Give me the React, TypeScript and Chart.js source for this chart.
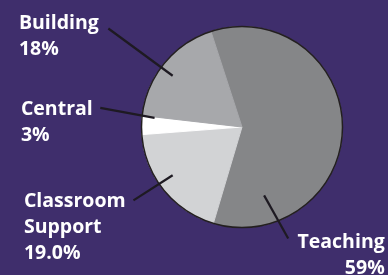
import React, { useEffect, useRef } from "react";
import { Chart, registerables } from "chart.js";

Chart.register(...registerables);

const categories = ["Teaching", "Classroom Support", "Central", "Building"];
const values = [59, 19, 3, 18];
const valueLabels = ["59%", "19.0%", "3%", "18%"];
const labelLines = [["Teaching"], ["Classroom", "Support"], ["Central"], ["Building"]];
const colors = ["#858688", "#d2d3d5", "#ffffff", "#a7a8ab"];

// label layout relative to pie centre, in units of the radius
const labelLayout = [
  { inner: [0.22, 0.68], outer: [0.46, 1.11], text: [1.42, 1.2], align: "right" },
  { inner: [-0.69, 0.48], outer: [-1.08, 0.73], text: [-2.17, 0.8], align: "left" },
  { inner: [-0.87, -0.09], outer: [-1.41, -0.19], text: [-2.2, -0.12], align: "left" },
  { inner: [-0.69, -0.51], outer: [-1.33, -0.98], text: [-2.22, -0.98], align: "left" },
];

const BG = "#3f2e6c";

const labelPlugin = {
  id: "pieLabels",
  afterDatasetsDraw(chart: any) {
    const ctx = chart.ctx;
    const meta = chart.getDatasetMeta(0);
    const arc0 = meta.data[0];
    const { x: cx, y: cy, outerRadius: R } = arc0.getProps(["x", "y", "outerRadius"], true);
    ctx.save();
    // outer outline
    ctx.beginPath();
    ctx.arc(cx, cy, R, 0, Math.PI * 2);
    ctx.lineWidth = 1.5;
    ctx.strokeStyle = "#231f20";
    ctx.stroke();
    // leaders + text
    categories.forEach((_, i) => {
      const L = labelLayout[i];
      ctx.beginPath();
      ctx.moveTo(cx + L.inner[0] * R, cy + L.inner[1] * R);
      ctx.lineTo(cx + L.outer[0] * R, cy + L.outer[1] * R);
      ctx.lineWidth = 2.2;
      ctx.strokeStyle = "#1e1a22";
      ctx.stroke();
      const lines = [...labelLines[i], valueLabels[i]];
      ctx.font = "bold 19.5px 'Open Sans', sans-serif";
      ctx.fillStyle = "#ffffff";
      ctx.textAlign = L.align;
      ctx.textBaseline = "alphabetic";
      const tx = cx + L.text[0] * R;
      const ty = cy + L.text[1] * R;
      lines.forEach((t, j) => ctx.fillText(t, tx, ty + j * 26));
    });
    ctx.restore();
  },
};

const bgPlugin = {
  id: "bg",
  beforeDraw(chart: any) {
    const ctx = chart.ctx;
    ctx.save();
    ctx.fillStyle = BG;
    ctx.fillRect(0, 0, chart.width, chart.height);
    ctx.restore();
  },
};

export default function App() {
  const ref = useRef<HTMLCanvasElement>(null);
  useEffect(() => {
    document.body.style.margin = "0";
    document.body.style.background = BG;
    const chart = new Chart(ref.current!, {
      type: "pie",
      data: {
        labels: categories,
        datasets: [
          {
            data: values,
            backgroundColor: colors,
            borderColor: colors,
            borderWidth: 1,
          },
        ],
      },
      options: {
        responsive: false,
        animation: false,
        rotation: -18,
        layout: { padding: { left: 141, right: 45, top: 26, bottom: 47 } },
        plugins: { legend: { display: false }, tooltip: { enabled: false } },
      },
      plugins: [bgPlugin, labelPlugin],
    });
    return () => chart.destroy();
  }, []);
  return (
    <div style={{ width: 388, height: 275, overflow: "hidden" }}>
      <canvas ref={ref} width={388} height={275} style={{ display: "block" }} />
    </div>
  );
}
